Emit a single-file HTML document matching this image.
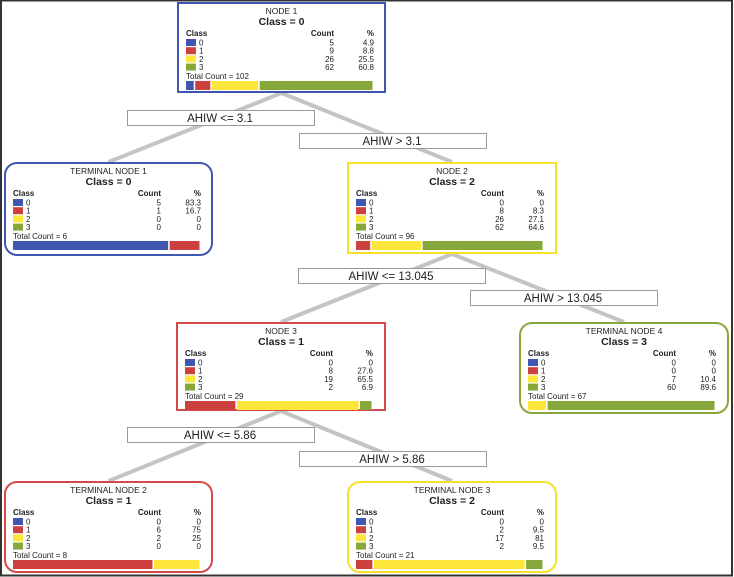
<!DOCTYPE html>
<html><head><meta charset="utf-8"><style>
html,body{margin:0;padding:0;background:#fff;}
svg{display:block;font-family:"Liberation Sans",sans-serif;}
</style></head><body>
<svg id="tree" width="734" height="577" viewBox="0 0 734 577" xmlns="http://www.w3.org/2000/svg">
<rect x="1" y="0.5" width="731" height="575" fill="#fff" stroke="#333" stroke-width="2"/>
</svg>
<script>
const classLabels = ['0','1','2','3'];
const classColors = ['#3f57b0','#cc4040','#fde63a','#86a83a'];
const nodeTitles = ['NODE 1','TERMINAL NODE 1','NODE 2','NODE 3','TERMINAL NODE 4','TERMINAL NODE 2','TERMINAL NODE 3'];
const nodeClass = ['0','0','2','1','3','1','2'];
const nodeCounts = [[5,9,26,62],[5,1,0,0],[0,8,26,62],[0,8,19,2],[0,0,7,60],[0,6,2,0],[0,2,17,2]];
const nodePcts = [['4.9','8.8','25.5','60.8'],['83.3','16.7','0','0'],['0','8.3','27.1','64.6'],['0','27.6','65.5','6.9'],['0','0','10.4','89.6'],['0','75','25','0'],['0','9.5','81','9.5']];
const nodeTotals = [102,6,96,29,67,8,21];
const splitTexts = ['AHIW <= 3.1','AHIW > 3.1','AHIW <= 13.045','AHIW > 13.045','AHIW <= 5.86','AHIW > 5.86'];
const edgeParent = [0,0,2,2,3,3];
const edgeChild = [1,2,3,4,5,6];

// layout (not data)
const boxes = [[177,2,209,91,0],[4,162,209,94,1],[347,162,210,92,0],[176,322,210,89,0],[519,322,210,92,1],[4,481,209,92,1],[347,481,210,92,1]];
const borderCol = ['#3f57b0','#3f57b0','#f5e02a','#d44a4a','#86a83a','#d44a4a','#f5e02a'];
const labelBoxes = [[127,110],[299,133],[298,268],[470,290],[127,427],[299,451]];

const svg = document.getElementById('tree');
const NS = 'http://www.w3.org/2000/svg';
function mk(tag, attrs, parent){const e=document.createElementNS(NS,tag);for(const k in attrs)e.setAttribute(k,attrs[k]);(parent||svg).appendChild(e);return e;}
function txt(x,y,s,size,anchor,weight,parent){const t=mk('text',{x:x,y:y,'font-size':size,'text-anchor':anchor||'start','font-weight':weight||'normal',fill:'#222'},parent);t.textContent=s;return t;}

// edges
edgeParent.forEach((p,i)=>{
  const c=edgeChild[i];const pb=boxes[p],cb=boxes[c];
  const l=mk('line',{x1:pb[0]+pb[2]/2,y1:pb[1]+pb[3],x2:cb[0]+cb[2]/2,y2:cb[1],stroke:'#c4c4c4','stroke-width':4});
  
  
});
// split labels
splitTexts.forEach((s,i)=>{
  const g=mk('g',{});
  
  
  const [x,y]=labelBoxes[i];
  mk('rect',{x:x+0.5,y:y+0.5,width:187,height:15,fill:'#fff',stroke:'#999','stroke-width':1},g);
  txt(x+93,y+12,s,11.5,'middle','normal',g);
});
// nodes
nodeTitles.forEach((title,n)=>{
  const g=mk('g',{});
  
  
  const [x,y,w,h,r]=boxes[n];
  mk('rect',{x:x+1,y:y+1,width:w-2,height:h-2,rx:r?12:0,fill:'#fff',stroke:borderCol[n],'stroke-width':2},g);
  const cx=x+w/2;
  txt(cx,y+12,title,8.5,'middle','normal',g);
  txt(cx,y+23,'Class = '+nodeClass[n],10.5,'middle','bold',g);
  const lx=x+9, cntX=x+157, pX=x+197;
  txt(lx,y+34,'Class',8,'start','bold',g);
  txt(cntX,y+34,'Count',8,'end','bold',g);
  txt(pX,y+34,'%',8,'end','bold',g);
  classLabels.forEach((c,k)=>{
    const ry=y+37+k*8.2;
    mk('rect',{x:lx,y:ry,width:10,height:7,fill:classColors[k]},g);
    txt(lx+13,ry+6.5,c,8,'start','normal',g);
    txt(cntX,ry+6.5,String(nodeCounts[n][k]),8,'end','normal',g);
    txt(pX,ry+6.5,nodePcts[n][k],8,'end','normal',g);
  });
  txt(lx,y+77,'Total Count = '+nodeTotals[n],8,'start','normal',g);
  const bw=pX-lx, by=y+79;
  let acc=0;
  nodeCounts[n].forEach((v,k)=>{
    if(!v)return;
    const sx=lx+bw*acc/nodeTotals[n], ww=bw*v/nodeTotals[n];
    const b=mk('rect',{x:sx,y:by,width:Math.max(ww-1.5,0.5),height:9,fill:classColors[k]},g);
    
    
    acc+=v;
  });
});
</script>
</body></html>
